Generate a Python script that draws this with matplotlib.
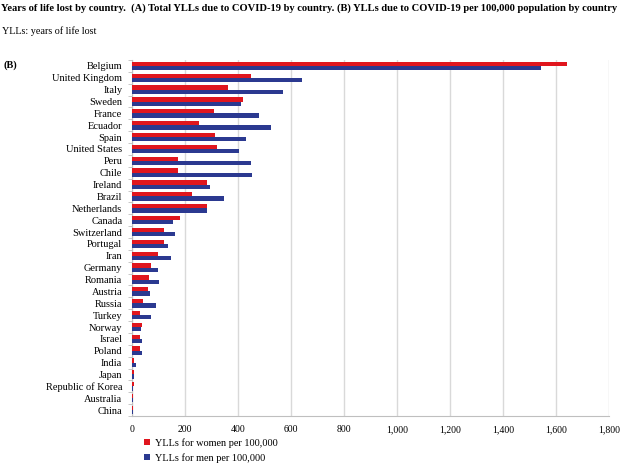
import numpy as np
import matplotlib
matplotlib.use("Agg")
import matplotlib.pyplot as plt
from matplotlib.ticker import FuncFormatter

countries = ["Belgium", "United Kingdom", "Italy", "Sweden", "France", "Ecuador", "Spain",
             "United States", "Peru", "Chile", "Ireland", "Brazil", "Netherlands", "Canada",
             "Switzerland", "Portugal", "Iran", "Germany", "Romania", "Austria", "Russia",
             "Turkey", "Norway", "Israel", "Poland", "India", "Japan", "Republic of Korea",
             "Australia", "China"]
women = [1640, 449, 362, 418, 311, 252, 312, 322, 174, 172, 283, 226, 282, 181, 120, 120,
         98, 73, 64, 62, 42, 31, 39, 30, 30, 9, 6, 6, 4, 3]
men = [1545, 640, 570, 411, 479, 526, 430, 404, 448, 452, 293, 348, 283, 156, 164, 136,
       147, 98, 102, 68, 89, 73, 35, 38, 38, 15, 7, 5, 4, 3]
xticks = [0, 200, 400, 600, 800, 1000, 1200, 1400, 1600, 1800]

plt.rcParams['font.family'] = ['Liberation Serif', 'DejaVu Serif']

W, H = 620, 465
fig = plt.figure(figsize=(W / 100, H / 100), dpi=100)

# header texts
fig.text(1 / W, 1 - 8 / H, "Years of life lost by country.  (A) Total YLLs due to COVID-19 by country. "
         "(B) YLLs due to COVID-19 per 100,000 population by country",
         fontsize=7.55, fontweight="bold", va="center", ha="left")
fig.text(2 / W, 1 - 31 / H, "YLLs: years of life lost", fontsize=7.3, va="center", ha="left")
fig.text(3 / W, 1 - 65 / H, "(B)", fontsize=7.5, fontweight="bold", va="center", ha="left")

ax = fig.add_axes([132 / W, 1 - 416 / H, (609 - 132) / W, (416 - 60) / H])

y = np.arange(len(countries))
h = 0.36
ax.barh(y - h / 2, women, height=h, color="#E0161E", label="YLLs for women per 100,000", zorder=3)
ax.barh(y + h / 2, men, height=h, color="#2B3990", label="YLLs for men per 100,000", zorder=3)

ax.set_ylim(len(countries) - 0.5, -0.5)
ax.set_xlim(0, 1800)
ax.set_yticks(y)
ax.set_yticklabels(countries, fontsize=7.5)
ax.set_xticks(xticks)
ax.xaxis.set_major_formatter(FuncFormatter(lambda v, p: f"{int(v):,}"))
ax.tick_params(axis="x", labelsize=7, length=0, pad=6.5)
ax.tick_params(axis="y", length=0, pad=7)
ax.set_yticks(np.arange(len(countries) + 1) - 0.5, minor=True)
ax.tick_params(axis="y", which="minor", length=3, color="#BFBFBF")

ax.grid(axis="x", color="#D9D9D9", linewidth=1, zorder=0)
for s in ["top", "right"]:
    ax.spines[s].set_visible(False)
ax.spines["left"].set_color("#BFBFBF")
ax.spines["bottom"].set_color("#BFBFBF")

ax.legend(loc="upper left", bbox_to_anchor=(144 / W, 1 - 438 / H), bbox_transform=fig.transFigure,
          frameon=False, fontsize=7.4, handlelength=0.6, handleheight=0.6, handletextpad=0.45,
          labelspacing=0.5, borderpad=0, borderaxespad=0)

fig.savefig("out.png", dpi=100)
